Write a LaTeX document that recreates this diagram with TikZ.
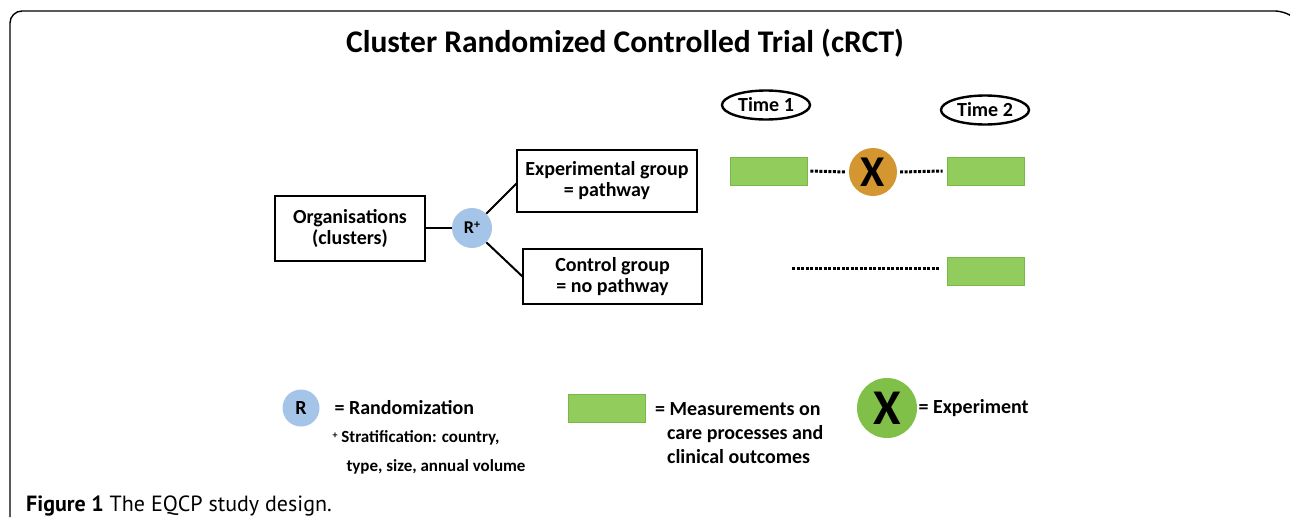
\documentclass[tikz,border=0pt]{standalone}
\usepackage{fontspec}
\setmainfont{Carlito}
\newfontfamily\capfont{PT Sans}
\definecolor{mgreen}{RGB}{146,204,92}
\definecolor{mgreenb}{RGB}{120,185,70}
\definecolor{xorange}{RGB}{212,150,48}
\definecolor{rblue}{RGB}{164,196,232}
\definecolor{xgreen}{RGB}{128,192,72}
\tikzset{
  every node/.style={font=\bfseries},
  fs/.style={font=\fontsize{#1}{#1}\selectfont\bfseries},
  boxstyle/.style={draw=black,line width=2pt,align=center,inner sep=0pt},
  meas/.style={fill=mgreen,draw=mgreenb,line width=0.6pt,minimum width=77pt,minimum height=28pt,inner sep=0pt},
  timeov/.style={ellipse,draw=black,line width=2.4pt,minimum width=88pt,minimum height=29pt,inner sep=0pt,fs=20},
  dots/.style={line width=3pt,dash pattern=on 3pt off 1.5pt},
  conn/.style={line width=2pt}
}
\usetikzlibrary{shapes.geometric}
\begin{document}
\begin{tikzpicture}[x=1pt,y=-1pt]
\useasboundingbox (0,0) rectangle (1290,517);
\fill[white] (0,0) rectangle (1290,517);
% frame
\draw[line width=1.4pt,rounded corners=12pt] (10,517) -- (10,11) -- (1287,11) -- (1297,20);
% title
\node[fs=31.5] (title) at (625,43) {Cluster Randomized Controlled Trial (cRCT)};
% boxes
\node[boxstyle,fs=20,minimum width=150pt,minimum height=65pt] (org) at (350,228) {Organisations\\[1pt](clusters)};
\node[circle,fill=rblue,minimum size=40pt,inner sep=0pt,fs=18] (r) at (472,228) {R\raisebox{5pt}{\fontsize{12}{12}\selectfont+}};
\node[boxstyle,fs=20,minimum width=180pt,minimum height=62pt] (exp) at (607,181) {Experimental group\\[1pt]= pathway};
\node[boxstyle,fs=20,minimum width=179pt,minimum height=55pt] (ctl) at (612.5,276.5) {Control group\\[1pt]= no pathway};
\draw[conn] (org.east) -- (r.west);
\coordinate (e1) at (517,183);
\coordinate (c1) at (523,277);
\draw[conn] (r.45) -- (e1);
\draw[conn] (r.-45) -- (c1);
% times
\node[timeov] (t1) at (766,105) {Time 1};
\node[timeov] (t2) at (985,110) {Time 2};
% measurements
\node[meas] (m1) at (768.5,171) {};
\node[circle,fill=xorange,minimum size=48pt,inner sep=0pt,fs=44] (x1) at (873,172) {X};
\node[meas] (m2) at (985.5,171) {};
\node[meas] (m3) at (985.5,271) {};
\coordinate (cs) at (792,268);
\draw[dots] ([xshift=3pt]m1.east) -- ([xshift=-3pt]x1.west);
\draw[dots] ([xshift=3pt]x1.east) -- ([xshift=-4pt]m2.west);
\draw[dots] (cs) -- ([xshift=-7pt]m3.west |- cs);
% legend
\node[circle,fill=rblue,minimum size=37pt,inner sep=0pt,fs=20] (lr) at (301,408) {R};
\node[anchor=west,fs=20] (lrt) at (331,408) {= Randomization};
\node[anchor=west,fs=17] (strat) at (329,438) {\raisebox{4pt}{\fontsize{10}{10}\selectfont+}\ Stratification: country,};
\node[anchor=west,fs=17] (strat2) at (343,467) {type, size, annual volume};
\node[meas] (lm) at (606.5,408.5) {};
\node[anchor=north west,fs=20,align=left,inner sep=0pt] (lmt) at (655,402) {= Measurements on\\[4pt]\hspace*{12pt}care processes and\\[4pt]\hspace*{12pt}clinical outcomes};
\node[circle,fill=xgreen,minimum size=60pt,inner sep=0pt,fs=50] (lx) at (887,408) {X};
\node[anchor=west,fs=20] (lxt) at (915,408) {= Experiment};
% caption
\node[anchor=base west,inner sep=0pt,font=\capfont\fontsize{22}{22}\selectfont] (cap) at (26,511) {\textbf{Figure 1} The EQCP study design.};
\end{tikzpicture}
\end{document}
